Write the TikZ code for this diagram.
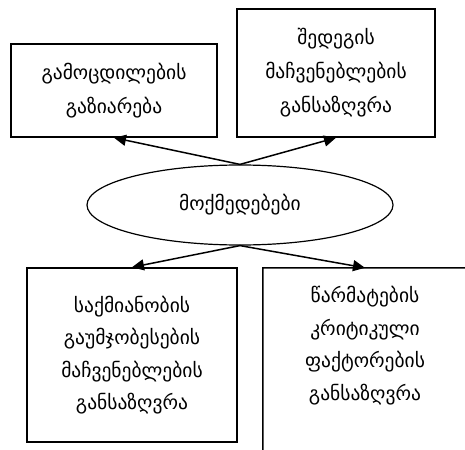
\documentclass[tikz,border=0pt]{standalone}
\usepackage{fontspec}
\setmainfont{DejaVu Sans}
\usetikzlibrary{shapes.geometric,arrows.meta}
\tikzset{
  box/.style={draw,line width=1.5pt,align=center,inner sep=0pt},
  openbox/.style={align=center,inner sep=0pt},
  arr/.style={line width=1.5pt,-{Triangle[length=12pt,width=11pt]}}
}
\begin{document}
\begin{tikzpicture}[x=1pt,y=-1pt,font=\fontsize{19.5}{32.5}\selectfont]
\clip (0,0) rectangle (465,449);
\fill[white] (0,0) rectangle (465,449);

\node[box,minimum width=206pt,minimum height=93pt] (b1) at (114,90.5) {გამოცდილების\\[1.5pt]გაზიარება};
\node[box,minimum width=198pt,minimum height=128pt] (b2) at (336,73) {შედეგის\\[1.5pt]მაჩვენებლების\\[1.5pt]განსაზღვრა};

\node[draw,ellipse,line width=1.2pt,minimum width=306pt,minimum height=80pt,inner sep=0pt] (act) at (240,205) {მოქმედებები};

\node[box,minimum width=210pt,minimum height=174pt] (b3) at (132,355) {საქმიანობის\\გაუმჯობესების\\მაჩვენებლების\\განსაზღვრა};
\node[openbox,minimum width=204pt,minimum height=155pt] (b4) at (365,345.5) {წარმატების\\კრიტიკული\\ფაქტორების\\განსაზღვრა};
\coordinate (b4end) at (263,455);

\draw[line width=1.5pt] (b4.north east) -- (b4.north west) -- (b4end);

\draw[arr] (act.north) -- (b1.south);
\draw[arr] (act.north) -- (b2.south);
\draw[arr] (act.south) -- (b3.north);
\draw[arr] (act.south) -- (b4.north);
\end{tikzpicture}
\end{document}
